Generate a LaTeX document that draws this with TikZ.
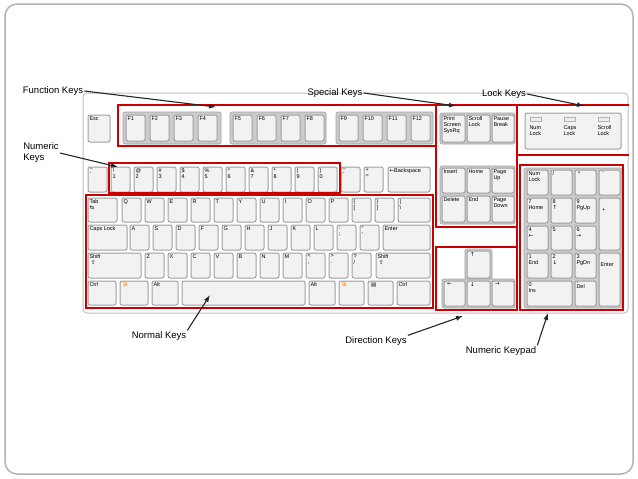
\documentclass[tikz,border=0pt]{standalone}
\usepackage{fontspec}
\setmainfont{Liberation Sans}
\newfontfamily\symfont{DejaVu Sans}
\tikzset{
  keycap/.style={draw=gray!75, fill=gray!10, line width=1pt, rounded corners=2pt},
  keygroup/.style={draw=gray!75, fill=gray!40, line width=0.6pt, rounded corners=2pt},
  keylabel/.style={anchor=north west, inner sep=1.3pt, font=\fontsize{5.5}{5.8}\selectfont, align=left},
  zone/.style={draw=red!80!black, line width=1.1pt},
  callout/.style={font=\fontsize{9.5}{11}\selectfont, align=left, inner sep=1pt},
  pointer/.style={-{Latex[length=7pt,width=5pt]}, line width=1.1pt, black!85}
}
\usetikzlibrary{arrows.meta}
% one key: corners and label
\newcommand{\kbkey}[5]{%
  \draw[keycap] (#1,#2) rectangle (#3,#4);
  \node[keylabel] at (#1,#2) {#5};}
\begin{document}
\begin{tikzpicture}[x=1pt,y=-1pt]
\useasboundingbox (0,0) rectangle (638,479);
% slide frame
\draw[gray!60, line width=1.5pt, rounded corners=12pt] (5,4) rectangle (633,474);
% keyboard body
\draw[gray!50, fill=white, line width=1pt, rounded corners=4pt] (83,93) rectangle (628,313);

% function row
\kbkey{88}{115}{110}{142}{Esc}
\draw[keygroup] (123,112) rectangle (221,144);
\draw[keygroup] (230,112) rectangle (326,144);
\draw[keygroup] (336,112) rectangle (433,144);
\foreach \l [count=\i from 0] in {F1,F2,F3,F4} \kbkey{126+24*\i}{115}{145+24*\i}{141}{\l};
\foreach \l [count=\i from 0] in {F5,F6,F7,F8} \kbkey{233+24*\i}{115}{252+24*\i}{141}{\l};
\foreach \l [count=\i from 0] in {F9,F10,F11,F12} \kbkey{339+24*\i}{115}{358+24*\i}{141}{\l};

% number row
\kbkey{88}{167}{107}{192}{\textasciitilde\\\textasciigrave}
\foreach \l [count=\i from 1] in {{!\\1},{@\\2},{\#\\3},{\$\\4},{\%\\5},{\textasciicircum\\6},{\&\\7},{*\\8},{(\\9},{)\\0},{\_\\-},{+\\=}}
  \kbkey{88+23*\i}{167}{107+23*\i}{192}{\l};
\kbkey{388}{167}{430}{192}{{\symfont←}Backspace}

% letter rows
\kbkey{88}{198}{117}{222}{Tab\\{\symfont⇆}}
\foreach \l [count=\i from 0] in {Q,W,E,R,T,Y,U,I,O,P,{\{\\{[}},{\}\\{]}}}
  \kbkey{122+23*\i}{198}{141+23*\i}{222}{\l};
\kbkey{398}{198}{430}{222}{|\\\textbackslash}
\kbkey{88}{225}{127}{250}{Caps Lock}
\foreach \l [count=\i from 0] in {A,S,D,F,G,H,J,K,L,{:\\;},{"\\'}}
  \kbkey{130+23*\i}{225}{149+23*\i}{250}{\l};
\kbkey{383}{225}{430}{250}{Enter}
\kbkey{88}{253}{141}{278}{Shift\\\ {\symfont⇧}}
\foreach \l [count=\i from 0] in {Z,X,C,V,B,N,M,{<\\,},{>\\.},{?\\/}}
  \kbkey{145+23*\i}{253}{164+23*\i}{278}{\l};
\kbkey{376}{253}{430}{278}{Shift\\\ {\symfont⇧}}
\kbkey{88}{281}{116}{305}{Ctrl}
\kbkey{120}{281}{148}{305}{\ {\symfont\textcolor{orange}{⊞}}}
\kbkey{152}{281}{178}{305}{Alt}
\kbkey{182}{281}{305}{305}{}
\kbkey{309}{281}{335}{305}{Alt}
\kbkey{339}{281}{364}{305}{\ {\symfont\textcolor{orange}{⊞}}}
\kbkey{368}{281}{393}{305}{\ {\symfont▤}}
\kbkey{397}{281}{430}{305}{Ctrl}

% special keys
\draw[keygroup] (440,113) rectangle (515,144);
\kbkey{442}{115}{465}{142}{Print\\Screen\\SysRq}
\kbkey{467}{115}{490}{142}{Scroll\\Lock}
\kbkey{492}{115}{514}{142}{Pause\\Break}
\draw[keygroup] (440,166) rectangle (515,224);
\kbkey{442}{168}{465}{193}{Insert}
\kbkey{467}{168}{490}{193}{Home}
\kbkey{492}{168}{514}{193}{Page\\Up}
\kbkey{442}{196}{465}{222}{Delete}
\kbkey{467}{196}{490}{222}{End}
\kbkey{492}{196}{514}{222}{Page\\Down}

% direction keys
\draw[keygroup] (465,249) rectangle (492,280);
\draw[keygroup] (442,279) rectangle (515,308);
\kbkey{467}{251}{490}{278}{\ {\symfont↑}}
\kbkey{444}{281}{465}{306}{\ {\symfont←}}
\kbkey{467}{281}{490}{306}{\ {\symfont↓}}
\kbkey{492}{281}{514}{306}{\ {\symfont→}}

% lock lights
\draw[keycap] (525,113) rectangle (621,149);
\foreach \l [count=\i from 0] in {{Num\\Lock},{Caps\\Lock},{Scroll\\Lock}} {
  \draw[gray!60, fill=gray!15] (530+34*\i,117) rectangle (541+34*\i,121);
  \node[keylabel] at (528+34*\i,124) {\l};
}

% numeric keypad
\draw[keygroup] (524,168) rectangle (622,308);
\kbkey{527}{170}{548}{195}{Num\\Lock}
\kbkey{551}{170}{572}{195}{/}
\kbkey{575}{170}{596}{195}{\ *}
\kbkey{599}{170}{620}{195}{\ -}
\kbkey{527}{198}{548}{223}{7\\Home}
\kbkey{551}{198}{572}{223}{8\\{\symfont↑}}
\kbkey{575}{198}{596}{223}{9\\PgUp}
\kbkey{599}{198}{620}{250}{\\\\\ +}
\kbkey{527}{226}{548}{250}{4\\{\symfont←}}
\kbkey{551}{226}{572}{250}{5}
\kbkey{575}{226}{596}{250}{6\\{\symfont→}}
\kbkey{527}{253}{548}{278}{1\\End}
\kbkey{551}{253}{572}{278}{2\\{\symfont↓}}
\kbkey{575}{253}{596}{278}{3\\PgDn}
\kbkey{599}{253}{620}{306}{\\\\Enter}
\kbkey{527}{281}{572}{306}{0\\Ins}
\kbkey{575}{281}{596}{306}{.\\Del}

% red zones
\draw[zone] (118,105) rectangle (436,146);
\draw[zone] (436,105) rectangle (517,227);
\draw[zone] (517,105) -- (629,105);
\draw[zone] (517,105) -- (517,310);
\draw[zone] (517,155) -- (629,155);
\draw[zone] (520,165) rectangle (623,310);
\draw[zone] (436,247) rectangle (517,310);
\draw[zone] (86,195) rectangle (433,308);
\draw[zone] (109,163) -- (340,163) -- (340,193) -- (109,193) -- cycle;

% callouts
\node[callout] (fkeys) at (53,91) {Function Keys};
\node[callout] (nkeys) at (41,153) {Numeric\\Keys};
\node[callout] (skeys) at (335,93) {Special Keys};
\node[callout] (lkeys) at (504,94) {Lock Keys};
\node[callout] (normal) at (159,336) {Normal Keys};
\node[callout] (dir) at (376,341) {Direction Keys};
\node[callout] (pad) at (501,351) {Numeric Keypad};
\coordinate (fkeyT) at (216,107);
\coordinate (nkeyT) at (118,167);
\coordinate (skeyT) at (456,106);
\coordinate (lkeyT) at (584,106);
\coordinate (normT) at (210,295);
\coordinate (dirT) at (463,316);
\coordinate (padT) at (548,313);
\draw[pointer] (fkeys.east) -- (fkeyT);
\draw[pointer] (nkeys.east) -- (nkeyT);
\draw[pointer] (skeys.east) -- (skeyT);
\draw[pointer] (lkeys.east) -- (lkeyT);
\draw[pointer] (normal.north east) -- (normT);
\draw[pointer] (dir.north east) -- (dirT);
\draw[pointer] (pad.north east) -- (padT);
\end{tikzpicture}
\end{document}
